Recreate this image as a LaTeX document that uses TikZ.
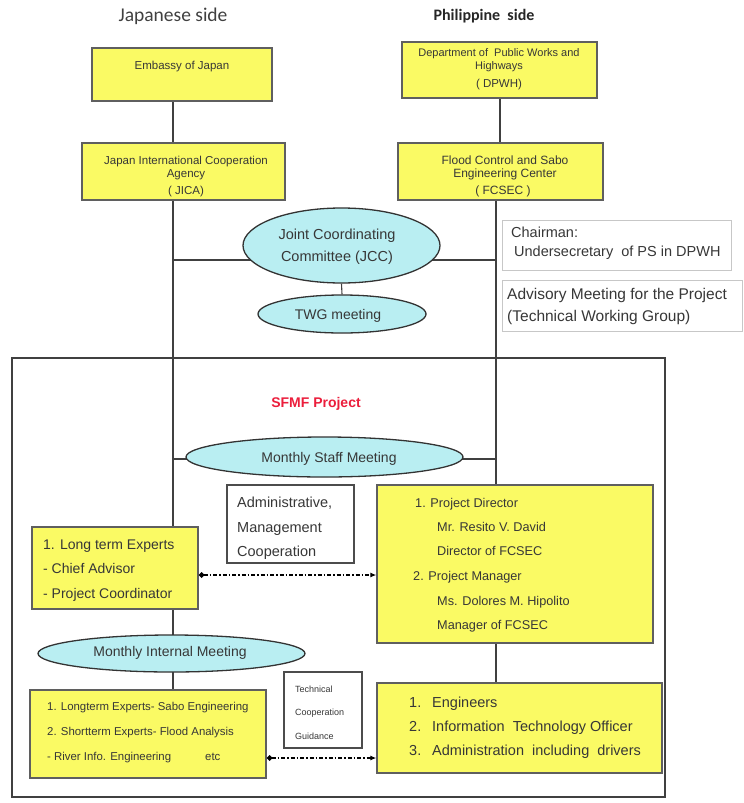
\documentclass[tikz,border=0pt]{standalone}
\usepackage{fontspec}
\setmainfont{Liberation Sans}
\newfontfamily\calfont{Carlito}
\usetikzlibrary{arrows.meta,backgrounds,shapes.geometric}
\definecolor{boxyellow}{RGB}{250,250,100}
\definecolor{ellcyan}{RGB}{185,238,242}
\definecolor{edge}{RGB}{95,95,95}
\definecolor{txt}{RGB}{55,55,55}
\definecolor{sfmfred}{RGB}{235,30,60}
\newcommand\fsz[1]{\fontsize{#1}{#1}\selectfont}
\begin{document}
\begin{tikzpicture}[x=1pt,y=-1pt,
  ybox/.style={draw=edge, line width=1.3pt, fill=boxyellow, inner sep=0, rectangle},
  wbox/.style={draw=black!70, line width=1.1pt, fill=white, inner sep=0, rectangle},
  gbox/.style={draw=black!22, line width=1pt, fill=white, inner sep=0, rectangle},
  ell/.style={draw=black!80, line width=1.3pt, fill=ellcyan, ellipse, inner sep=0},
  conn/.style={draw=black!75, line width=1.1pt},
  dda/.style={draw=black, line width=1.3pt, dash pattern=on 4pt off 2pt on 1.5pt off 2pt,
     {Diamond[length=6pt,width=6pt]}-{Latex[length=6pt,width=5pt]}},
  lb/.style={inner sep=0, text=txt, anchor=mid},
  lw/.style={inner sep=0, text=txt, anchor=mid west},
]
\useasboundingbox (0,0) rectangle (744,803);

% headings
\node[lb, font=\calfont\fsz{19.5}, text=black!75] (jside) at (173,19) {Japanese side};
\node[lb, font=\calfont\bfseries\fsz{16}, text=black!85] (pside) at (484,18) {Philippine~ side};

% upper boxes
\node[ybox, minimum width=180, minimum height=53] (emb) at (182,74.5) {};
\node[ybox, minimum width=195, minimum height=56] (dpwh) at (499.5,70) {};
\node[ybox, minimum width=203, minimum height=57] (jica) at (183.5,171.5) {};
\node[ybox, minimum width=205, minimum height=57] (fcsec) at (500.5,171.5) {};

\node[lb, font=\fsz{11.5}] (embT) at (182,67) {Embassy of Japan};
\node[lb, font=\fsz{11}] (dpwhT1) at (499,54) {Department of\ \ Public Works and};
\node[lb, font=\fsz{11}] (dpwhT2) at (499,67) {Highways};
\node[lb, font=\fsz{11.5}] (dpwhT3) at (499,85) {( DPWH)};
\node[lb, font=\fsz{11.5}] (jicaT1) at (186,162) {Japan International Cooperation};
\node[lb, font=\fsz{11.5}] (jicaT2) at (186,175) {Agency};
\node[lb, font=\fsz{11.5}] (jicaT3) at (186,192) {( JICA)};
\node[lb, font=\fsz{12}] (fcT1) at (505,162) {Flood Control and Sabo};
\node[lb, font=\fsz{12}] (fcT2) at (505,175) {Engineering Center};
\node[lb, font=\fsz{12}] (fcT3) at (503,192) {( FCSEC )};

% JCC and TWG
\node[ell, minimum width=197, minimum height=75] (jcc) at (341.5,245.5) {};
\node[lb, font=\fsz{14.5}] (jccT1) at (337,237) {Joint Coordinating};
\node[lb, font=\fsz{14.5}] (jccT2) at (337,259) {Committee (JCC)};
\node[ell, minimum width=168, minimum height=38] (twg) at (342,314) {};
\node[lb, font=\fsz{14}] (twgT) at (338,317) {TWG meeting};

% side notes
\node[gbox, minimum width=229, minimum height=50] (chair) at (616.5,245) {};
\node[lw, font=\fsz{14.5}] (chT1) at (511,235) {Chairman:};
\node[lw, font=\fsz{14.5}] (chT2) at (514,254) {Undersecretary\ \ of PS in DPWH};
\node[gbox, minimum width=240, minimum height=51] (adv) at (622,305.5) {};
\node[lw, font=\fsz{15.5}] (advT1) at (507,297) {Advisory Meeting for the Project};
\node[lw, font=\fsz{15.5}] (advT2) at (507,319) {(Technical Working Group)};

% project frame
\node[draw=black!75, line width=1.8pt, rectangle, inner sep=0, minimum width=653, minimum height=439] (proj) at (338.5,577.5) {};
\node[lb, font=\bfseries\fsz{14}, text=sfmfred] (sfmf) at (316,405) {SFMF Project};

\node[ell, minimum width=277, minimum height=40] (msm) at (324.5,457) {};
\node[lb, font=\fsz{14}] (msmT) at (329,460) {Monthly Staff Meeting};

\node[wbox, minimum width=127, minimum height=78] (admin) at (290.5,524) {};
\node[lw, font=\fsz{14.5}] (adT1) at (237,505) {Administrative,};
\node[lw, font=\fsz{14.5}] (adT2) at (237,530) {Management};
\node[lw, font=\fsz{14.5}] (adT3) at (237,554) {Cooperation};

\node[ybox, minimum width=166, minimum height=82] (lte) at (115,568) {};
\node[lw, font=\fsz{14}] (lteT1) at (43,547) {1. Long term Experts};
\node[lw, font=\fsz{14}] (lteT2) at (43,571) {- Chief Advisor};
\node[lw, font=\fsz{14}] (lteT3) at (43,596) {- Project Coordinator};

\node[ybox, minimum width=276, minimum height=158] (pd) at (515,564) {};
\node[lw, font=\fsz{12.7}] (pdT1) at (415,505) {1. Project Director};
\node[lw, font=\fsz{12.7}] (pdT2) at (437,529) {Mr. Resito V. David};
\node[lw, font=\fsz{12.7}] (pdT3) at (437,553) {Director of FCSEC};
\node[lw, font=\fsz{12.7}] (pdT4) at (413,578) {2. Project Manager};
\node[lw, font=\fsz{12.7}] (pdT5) at (437,603) {Ms. Dolores M. Hipolito};
\node[lw, font=\fsz{12.7}] (pdT6) at (437,627) {Manager of FCSEC};

\node[ell, minimum width=267, minimum height=37] (mim) at (171.5,653.5) {};
\node[lb, font=\fsz{14}] (mimT) at (170,654) {Monthly Internal Meeting};

\node[ybox, minimum width=236, minimum height=88] (lts) at (148,734) {};
\node[lw, font=\fsz{11.4}] (ltsT1) at (47,708) {1. Longterm Experts- Sabo Engineering};
\node[lw, font=\fsz{11.4}] (ltsT2) at (47,733) {2. Shortterm Experts- Flood Analysis};
\node[lw, font=\fsz{11.4}] (ltsT3) at (47,758) {- River Info. Engineering};
\node[lw, font=\fsz{11.4}] (ltsT4) at (205,758) {etc};

\node[wbox, minimum width=78, minimum height=76] (tech) at (323,710) {};
\node[lw, font=\fsz{9}] (teT1) at (295,690) {Technical};
\node[lw, font=\fsz{9}] (teT2) at (295,713) {Cooperation};
\node[lw, font=\fsz{9}] (teT3) at (295,737) {Guidance};

\node[ybox, minimum width=285, minimum height=90] (eng) at (519.5,728) {};
\node[lw, font=\fsz{14.5}] (enN1) at (409,705) {1.};
\node[lw, font=\fsz{14.5}] (enN2) at (409,729) {2.};
\node[lw, font=\fsz{14.5}] (enN3) at (409,753) {3.};
\node[lw, font=\fsz{14.5}] (enT1) at (432,705) {Engineers};
\node[lw, font=\fsz{14.5}] (enT2) at (432,729) {Information\ \ Technology Officer};
\node[lw, font=\fsz{14.5}] (enT3) at (432,753) {Administration\ \ including\ \ drivers};

% guide coordinates
\coordinate (L) at (173,0);
\coordinate (Ru) at (500,0);
\coordinate (Rl) at (496,0);
\coordinate (hj) at (0,260);
\coordinate (hm) at (0,459);
\coordinate (a1) at (0,575);
\coordinate (a2) at (0,758);

\begin{scope}[on background layer]
\draw[conn] (emb.south -| L) -- (jica.north -| L);
\draw[conn] (jica.south -| L) -- (lte.north -| L);
\draw[conn] (lte.south -| L) -- (lts.north -| L);
\draw[conn] (dpwh.south -| Ru) -- (fcsec.north -| Ru);
\draw[conn] (fcsec.south -| Rl) -- (pd.north -| Rl);
\draw[conn] (pd.south -| Rl) -- (eng.north -| Rl);
\draw[conn] (L |- hj) -- (Rl |- hj);
\draw[conn] (jcc.south) -- (twg.north);
\draw[conn] (L |- hm) -- (Rl |- hm);
\end{scope}

\draw[dda] (lte.east |- a1) -- (pd.west |- a1);
\draw[dda] (lts.east |- a2) -- (eng.west |- a2);
\end{tikzpicture}
\end{document}
